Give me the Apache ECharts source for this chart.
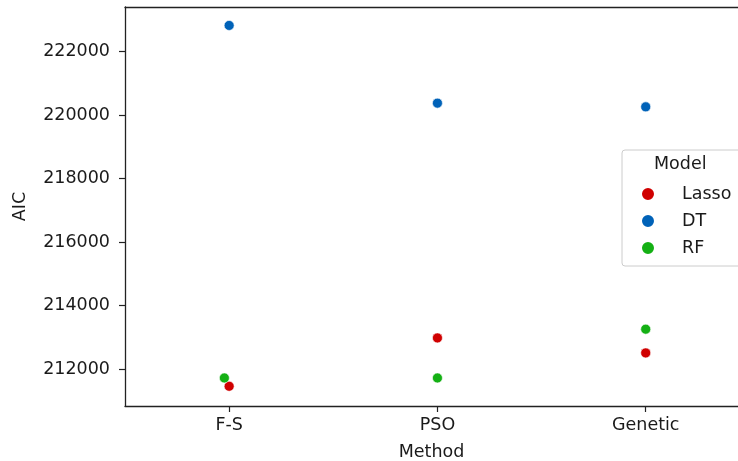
<!DOCTYPE html>
<html><head><meta charset="utf-8">
<script src="https://cdn.jsdelivr.net/npm/echarts@6/dist/echarts.min.js"></script>
<style>html,body{margin:0;padding:0;background:#fff}#c{width:738px;height:461px}</style>
</head><body><div id="c"></div>
<script>
// Data
var methods = ["F-S", "PSO", "Genetic"];
var models = ["Lasso", "DT", "RF"];
var lassoAIC = [211464, 212986, 212514];
var dtAIC = [222819, 220374, 220257];
var rfAIC = [211726, 211726, 213261];
// stripplot horizontal jitter (category units)
var lassoJitter = [0, 0, 0];
var dtJitter = [0, 0, 0];
var rfJitter = [-0.023, 0, 0];
var yTicks = [212000, 214000, 216000, 218000, 220000, 222000];
var colors = {Lasso: "#d00000", DT: "#0062b8", RF: "#14b014"};

function pts(vals, jit) { return vals.map(function (v, i) { return [i + jit[i], v]; }); }
var seriesData = {Lasso: pts(lassoAIC, lassoJitter), DT: pts(dtAIC, dtJitter), RF: pts(rfAIC, rfJitter)};

var font = "DejaVu Sans";
var xMin = -0.5, xMax = 2.443;
var chart = echarts.init(document.getElementById("c"), null, {renderer: "canvas"});
chart.setOption({
  animation: false,
  backgroundColor: "#fff",
  textStyle: {fontFamily: font},
  grid: {left: 125, top: 7, bottom: 55, right: 0, show: false, outerBoundsMode: "none", containLabel: false},
  title: {text: "Model", left: 654, top: 155, padding: 0, textStyle: {fontFamily: font, fontSize: 17.5, fontWeight: "normal", color: "#1a1a1a"}},
  legend: {
    orient: "vertical", left: 622, top: 150,
    padding: [35, 40, 9, 18],
    itemWidth: 14, itemHeight: 14, itemGap: 9,
    borderColor: "#cccccc", borderWidth: 1, borderRadius: 3,
    backgroundColor: "rgba(255,255,255,0.85)",
    data: models.map(function (m) { return {name: m, icon: "circle"}; }),
    textStyle: {fontFamily: font, fontSize: 17.5, color: "#1a1a1a", padding: [0, 0, 0, 22]}
  },
  xAxis: [{
    type: "value", min: xMin, max: xMax,
    name: "Method", nameLocation: "middle", nameGap: 37,
    nameTextStyle: {fontFamily: font, fontSize: 17.5, color: "#1a1a1a"},
    splitLine: {show: false},
    axisLine: {show: true, onZero: false, lineStyle: {color: "#222", width: 1.3}},
    axisTick: {show: true, customValues: [0, 1, 2], length: 6, lineStyle: {color: "#222", width: 1.2}},
    axisLabel: {customValues: [0, 1, 2], margin: 10, fontFamily: font, fontSize: 17.5, color: "#1a1a1a",
      formatter: function (v) { return methods[Math.round(v)]; }}
  }, {
    type: "value", min: xMin, max: xMax, position: "top",
    splitLine: {show: false},
    axisLine: {show: true, onZero: false, lineStyle: {color: "#222", width: 1.3}},
    axisTick: {show: false}, axisLabel: {show: false}
  }],
  yAxis: {
    type: "value", min: 210843, max: 223399,
    name: "AIC", nameLocation: "middle", nameGap: 96,
    nameTextStyle: {fontFamily: font, fontSize: 17.5, color: "#1a1a1a"},
    splitLine: {show: false},
    axisLine: {show: true, onZero: false, lineStyle: {color: "#222", width: 1.3}},
    axisTick: {show: true, customValues: yTicks, length: 6, lineStyle: {color: "#222", width: 1.2}},
    axisLabel: {customValues: yTicks, margin: 15, fontFamily: font, fontSize: 17.5, color: "#1a1a1a",
      formatter: function (v) { return String(v); }}
  },
  series: models.map(function (m) {
    return {
      name: m, type: "scatter", xAxisIndex: 0, data: seriesData[m], symbol: "circle", symbolSize: 10,
      itemStyle: {color: colors[m], borderColor: "#fff", borderWidth: 0.6, opacity: 1}
    };
  })
});
</script></body></html>
